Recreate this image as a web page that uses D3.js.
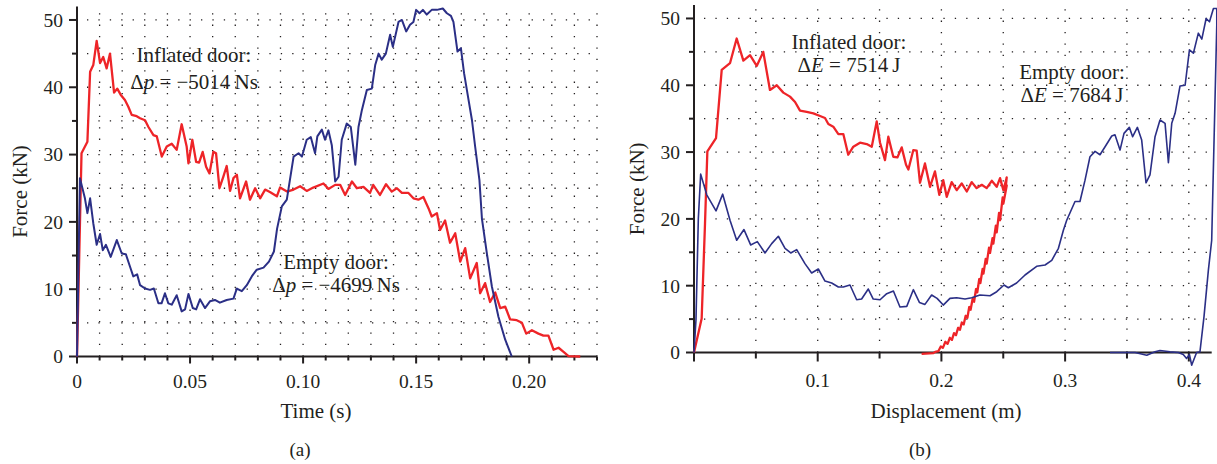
<!DOCTYPE html>
<html>
<head>
<meta charset="utf-8">
<script src="https://cdn.jsdelivr.net/npm/d3@7"></script>
<style>
  body { margin: 0; background: #fff; }
  svg text { font-family: "Liberation Serif", "DejaVu Serif", serif; fill: #231f20; }
</style>
</head>
<body>
<div id="chart"></div>
<script>
// force histories: [x, force kN]
const inflatedTime = [[0,0],[0.002,30.2],[0.0046,31.9],[0.0058,42.3],[0.0072,43.3],[0.0087,46.9],[0.0102,43.6],[0.0116,44.5],[0.0131,42.8],[0.0146,45],[0.0164,39.2],[0.0178,39.8],[0.0193,38.9],[0.0212,38.1],[0.0227,37.1],[0.0242,35.9],[0.0264,35.7],[0.0279,35.4],[0.0301,35.1],[0.0316,34.1],[0.0338,32.9],[0.0353,32.7],[0.0375,29.7],[0.0397,31.2],[0.0419,31.6],[0.0441,30.7],[0.0463,34.5],[0.0485,31.2],[0.0493,28.7],[0.051,32.2],[0.0527,28.9],[0.054,28.8],[0.0556,30.4],[0.0571,28.2],[0.0586,27.2],[0.0603,30.4],[0.0615,30.2],[0.063,25],[0.0647,26.7],[0.0662,28.3],[0.0677,24.6],[0.0692,26.5],[0.0707,27],[0.0721,23.5],[0.0748,26],[0.0765,23.3],[0.0788,25],[0.081,23.5],[0.0832,24.8],[0.0855,24.4],[0.0884,23.8],[0.0898,25.1],[0.0929,24.5],[0.0958,24.8],[0.0987,25.3],[0.1016,24.6],[0.1045,25.1],[0.109,25.7],[0.1112,24.9],[0.1142,25.5],[0.1164,25.5],[0.1186,24],[0.1216,26],[0.1238,25],[0.1267,25.2],[0.1296,24.3],[0.131,25.5],[0.134,24],[0.1367,25.6],[0.1392,24.5],[0.1415,25],[0.1437,24.3],[0.1466,24.3],[0.1488,23.5],[0.151,23.3],[0.1532,23.7],[0.1555,22],[0.1569,20.8],[0.1592,21.3],[0.1606,18.8],[0.1628,20.2],[0.165,16.9],[0.1673,18.3],[0.1695,14.1],[0.1717,16.1],[0.1739,11.6],[0.1768,13.9],[0.1783,9.4],[0.1805,10.9],[0.1827,8.1],[0.185,9.5],[0.1872,7.2],[0.1894,7.4],[0.1916,5.5],[0.1945,5.4],[0.1968,5.0],[0.1987,3.4],[0.2012,3.9],[0.2041,3.4],[0.2063,3.1],[0.2085,3.1],[0.2108,1.0],[0.213,1.3],[0.2152,0.7],[0.2174,0.05],[0.2226,0]];

const emptyTime = [[0,0],[0.0013,26.5],[0.0035,23.5],[0.0046,21.3],[0.0058,23.5],[0.0072,19.8],[0.0087,16.6],[0.0102,18.2],[0.0114,15.8],[0.0128,16.6],[0.0149,14.8],[0.0176,17.3],[0.0198,15.3],[0.0216,15.2],[0.0235,13.3],[0.0249,11.9],[0.0266,12.2],[0.0279,10.6],[0.0301,10.1],[0.0323,9.9],[0.034,10.1],[0.036,7.9],[0.0374,7.9],[0.0389,9.4],[0.0404,7.9],[0.0419,7.7],[0.0441,9.1],[0.0463,6.7],[0.0478,7.0],[0.0493,9.3],[0.0512,7.2],[0.0527,7.0],[0.0544,8.5],[0.0566,7.2],[0.0588,8.2],[0.061,8.4],[0.0632,8.0],[0.0662,8.4],[0.0692,8.6],[0.0707,10.1],[0.0729,9.7],[0.0751,10.6],[0.0773,11.9],[0.0795,12.9],[0.0825,13.2],[0.0849,14.1],[0.0871,15.6],[0.0885,19.0],[0.0906,22.3],[0.0928,23.3],[0.0958,29.7],[0.098,30.2],[0.0995,29.7],[0.1016,32.2],[0.1034,32.6],[0.1053,30.2],[0.1063,32.7],[0.1083,33.7],[0.1097,32.2],[0.1112,33.6],[0.1127,31.4],[0.1142,26],[0.1157,26.7],[0.1171,32.2],[0.1193,34.6],[0.1211,34.1],[0.1231,28.5],[0.1245,34.1],[0.126,36.6],[0.1282,39.6],[0.1304,39.8],[0.1319,43.3],[0.1334,45],[0.1348,44.1],[0.1366,45],[0.1385,47.8],[0.1397,46],[0.1422,49.7],[0.1437,50],[0.1456,48.3],[0.1473,49.3],[0.1488,49.7],[0.15,51.5],[0.1515,51],[0.153,51.5],[0.1547,50.8],[0.1569,51.5],[0.1592,51.5],[0.1618,51.7],[0.1636,51],[0.1654,50.6],[0.1665,49.7],[0.1683,45.3],[0.1698,45.8],[0.1712,42.1],[0.1732,38.1],[0.1747,35.1],[0.1761,31.2],[0.178,26.2],[0.1791,20.5],[0.1813,15.3],[0.1835,10.4],[0.1864,5.9],[0.1894,2.5],[0.1923,0]];

const inflatedDisp = [[0,0],[0.0062,5.1],[0.0089,19.3],[0.0108,30.1],[0.0178,32.1],[0.0224,42.3],[0.0291,43.3],[0.0345,47],[0.0399,43.7],[0.0453,44.5],[0.0507,42.9],[0.056,45],[0.0614,39.3],[0.0669,40],[0.0722,38.9],[0.0776,38.3],[0.0817,37.5],[0.0857,36.2],[0.0911,36],[0.0965,35.8],[0.1019,35.4],[0.1059,35.1],[0.1086,34.2],[0.1126,33.8],[0.1167,32.7],[0.1207,32.7],[0.1247,29.6],[0.1288,30.8],[0.1342,31.4],[0.1396,31.2],[0.1437,30.8],[0.1477,34.6],[0.1504,31.4],[0.1544,28.8],[0.1571,32.3],[0.1611,29.3],[0.1644,29.2],[0.1679,30.7],[0.1714,28.1],[0.1733,27.4],[0.1773,30.3],[0.18,30.2],[0.1827,25.4],[0.1867,28.3],[0.1908,24.8],[0.1948,27.1],[0.1983,23.6],[0.2015,25.8],[0.2043,23.3],[0.2083,25.5],[0.2124,24.3],[0.2164,25.3],[0.2205,24.1],[0.2245,25.5],[0.2285,24.6],[0.2326,25.1],[0.2366,24.6],[0.2407,25.7],[0.2447,24.8],[0.2474,26.1],[0.2501,24.3],[0.2528,26.2],[0.2515,23.8],[0.2528,25],[0.2501,22.3],[0.2495,23.2],[0.2474,19.8],[0.2466,20.9],[0.2447,18.0],[0.244,19.0],[0.242,16.3],[0.2413,17.1],[0.2393,14.9],[0.2385,15.7],[0.2366,13.3],[0.2358,14.0],[0.234,11.8],[0.2333,12.5],[0.2315,10.4],[0.2306,11.0],[0.229,9.0],[0.228,9.5],[0.2264,7.6],[0.2252,8.0],[0.2236,6.4],[0.2225,6.8],[0.221,5.2],[0.2196,5.5],[0.218,4.2],[0.2165,4.5],[0.215,3.4],[0.2135,3.7],[0.2118,2.6],[0.2102,2.9],[0.2085,1.9],[0.2068,2.2],[0.205,1.3],[0.2032,1.6],[0.2012,0.7],[0.1995,0.9],[0.1975,0.2],[0.195,0.1],[0.1935,-0.1],[0.184,-0.2]];

const emptyDisp = [[0,0],[0.0016,4.9],[0.0035,20],[0.0054,26.7],[0.0103,23.6],[0.0178,21.2],[0.0232,23.7],[0.0291,19.8],[0.0345,16.8],[0.0404,18.4],[0.0458,16.1],[0.0512,16.6],[0.0574,14.9],[0.0628,16.3],[0.0682,17.4],[0.0736,15.6],[0.0782,14.9],[0.083,15.4],[0.0897,13.3],[0.0951,11.9],[0.1005,12.5],[0.1059,10.7],[0.1113,10.4],[0.1167,9.8],[0.1207,9.8],[0.1261,10.1],[0.1315,7.9],[0.1355,8.0],[0.1409,9.5],[0.1449,8],[0.1504,7.9],[0.1558,8.8],[0.1612,9.2],[0.1665,6.8],[0.172,6.9],[0.1773,9.4],[0.1822,7.5],[0.1867,7.2],[0.1921,8.6],[0.1965,8.1],[0.2015,7.1],[0.2069,8.1],[0.2123,8.2],[0.2191,8.0],[0.2245,8.2],[0.2312,8.6],[0.2393,8.5],[0.2447,9.1],[0.2506,10.1],[0.2541,9.7],[0.2608,10.4],[0.2676,11.6],[0.277,12.9],[0.2838,13.1],[0.2892,13.8],[0.2946,15.6],[0.2986,18.3],[0.3013,19.8],[0.308,22.6],[0.312,22.6],[0.3161,25.8],[0.3201,29.3],[0.3242,30.1],[0.3282,29.6],[0.3323,30.8],[0.3377,32.4],[0.3403,32.6],[0.3444,30.3],[0.3476,32.8],[0.3519,33.7],[0.3546,32.3],[0.3584,33.7],[0.3619,31.8],[0.3654,25.4],[0.3686,26.6],[0.3727,32.3],[0.3767,34.8],[0.3808,34.3],[0.3835,28.4],[0.3862,34.3],[0.3889,35.8],[0.3929,39.9],[0.397,40],[0.4005,45.3],[0.4037,44.8],[0.4077,47.8],[0.4105,46.9],[0.414,50],[0.4167,49.5],[0.4199,51.5],[0.4226,51.5],[0.4226,49],[0.4185,16.8],[0.4158,12.3],[0.4123,5.4],[0.409,0.1],[0.4063,0],[0.4023,-1.9],[0.4005,-0.3],[0.3982,-0.9],[0.3955,-0.3],[0.3915,0],[0.3848,0.1],[0.3767,0.3],[0.3727,0.1],[0.366,-0.4],[0.3565,0],[0.3363,0]];

const forceTicks = [0, 10, 20, 30, 40, 50];
const timeTicks = [0, 0.05, 0.10, 0.15, 0.20];
const dispTicks = [0.1, 0.2, 0.3, 0.4];

const RED = "#ee2428";
const BLUE = "#2b2f86";
const INK = "#231f20";

const W = 1217, H = 464;
const svg = d3.select("#chart").append("svg")
  .attr("width", W).attr("height", H)
  .attr("viewBox", `0 0 ${W} ${H}`);

function drawPanel(cfg) {
  const x = d3.scaleLinear().domain(cfg.xDomain).range(cfg.xRange);
  const y = d3.scaleLinear().domain([0, 52]).range(cfg.yRange);
  const g = svg.append("g");

  // dotted grid
  const vLines = d3.range(cfg.gridStep, cfg.xDomain[1] + 1e-9, cfg.gridStep);
  g.append("g").selectAll("line").data(vLines).enter().append("line")
    .attr("x1", d => x(d)).attr("x2", d => x(d))
    .attr("y1", y(0)).attr("y2", y(52))
    .attr("stroke", INK).attr("stroke-width", 1.3)
    .attr("stroke-dasharray", "1.3,10.1");
  g.append("g").selectAll("line").data(d3.range(5, 51, 5)).enter().append("line")
    .attr("x1", x(0)).attr("x2", x(cfg.xDomain[1]))
    .attr("y1", d => y(d)).attr("y2", d => y(d))
    .attr("stroke", INK).attr("stroke-width", 1.3)
    .attr("stroke-dasharray", "1.3,10.1")
    .attr("stroke-dashoffset", -10);

  // axes
  const yAxis = g.append("g").attr("transform", `translate(${x(0)},0)`);
  yAxis.append("line").attr("y1", y(0) + 1).attr("y2", y(52))
    .attr("stroke", INK).attr("stroke-width", 2);
  yAxis.selectAll(".tk").data(d3.range(0, 51, 5)).enter().append("line")
    .attr("x1", d => d % 10 === 0 ? -8 : -5).attr("x2", 0)
    .attr("y1", d => y(d)).attr("y2", d => y(d))
    .attr("stroke", INK).attr("stroke-width", 2);
  yAxis.selectAll("text").data(forceTicks).enter().append("text")
    .attr("x", -14).attr("y", d => y(d)).attr("dy", "0.35em")
    .attr("text-anchor", "end").style("font-size", "19.5px")
    .text(d => d);

  const xAxis = g.append("g").attr("transform", `translate(0,${y(0)})`);
  xAxis.append("line").attr("x1", x(0) - 1).attr("x2", x(cfg.xDomain[1]))
    .attr("stroke", INK).attr("stroke-width", 2);
  xAxis.selectAll(".tk").data(d3.range(0, cfg.xDomain[1] + 1e-9, cfg.gridStep)).enter().append("line")
    .attr("x1", d => x(d)).attr("x2", d => x(d))
    .attr("y1", 0).attr("y2", (d, i) => i % cfg.majorEvery === 0 ? cfg.majorLen : cfg.minorLen)
    .attr("stroke", INK).attr("stroke-width", 2);
  xAxis.selectAll("text").data(cfg.xTicks).enter().append("text")
    .attr("x", d => x(d)).attr("y", cfg.labelOffset)
    .attr("text-anchor", "middle").style("font-size", "19.5px")
    .text(cfg.fmt);

  // titles
  g.append("text").attr("x", cfg.xTitle[0]).attr("y", cfg.xTitle[1])
    .attr("text-anchor", "middle").style("font-size", "21px").text(cfg.xLabel);
  g.append("text")
    .attr("transform", `translate(${cfg.yTitleX},${(y(0) + y(52)) / 2 + 10}) rotate(-90)`)
    .attr("text-anchor", "middle").style("font-size", "21px").text("Force (kN)");
  g.append("text").attr("x", cfg.panelLabel[0]).attr("y", 456)
    .attr("text-anchor", "middle").style("font-size", "19px").text(cfg.panelLabel[1]);

  // curves
  const line = d3.line().x(d => x(d[0])).y(d => y(d[1]));
  g.append("path").datum(cfg.red).attr("d", line)
    .attr("fill", "none").attr("stroke", RED).attr("stroke-width", 2.3)
    .attr("stroke-linejoin", "round");
  g.append("path").datum(cfg.blue).attr("d", line)
    .attr("fill", "none").attr("stroke", BLUE).attr("stroke-width", cfg.blueWidth)
    .attr("stroke-linejoin", "round");

  // annotations
  cfg.notes.forEach(n => {
    g.append("text").attr("x", n.x).attr("y", n.y)
      .attr("text-anchor", "middle").style("font-size", "21px").text(n.title);
    const t = g.append("text").attr("x", n.x).attr("y", n.y + n.gap)
      .attr("text-anchor", "middle").style("font-size", "21px");
    t.append("tspan").text("\u0394");
    t.append("tspan").style("font-style", "italic").text(n.sym);
    t.append("tspan").text(" = " + n.value);
  });
}

drawPanel({
  xDomain: [0, 0.23], xRange: [77, 597], yRange: [356.5, 6.5],
  gridStep: 0.01, majorEvery: 5, majorLen: 7, minorLen: 4,
  xTicks: timeTicks, fmt: d => d === 0 ? "0" : d.toFixed(2), labelOffset: 31,
  xLabel: "Time (s)", xTitle: [316, 418], yTitleX: 27, panelLabel: [300, "(a)"],
  red: inflatedTime, blue: emptyTime, blueWidth: 2,
  notes: [
    { x: 194, y: 62, gap: 27, title: "Inflated door:", sym: "p", value: "\u22125014\u2009Ns" },
    { x: 336, y: 269, gap: 23, title: "Empty door:", sym: "p", value: "\u22124699\u2009Ns" }
  ]
});

drawPanel({
  xDomain: [0, 0.4185], xRange: [694, 1211.7], yRange: [352.5, 5.1],
  gridStep: 0.05, majorEvery: 2, majorLen: 9, minorLen: 6,
  xTicks: dispTicks, fmt: d => d.toFixed(1), labelOffset: 34,
  xLabel: "Displacement (m)", xTitle: [946, 418], yTitleX: 644, panelLabel: [920, "(b)"],
  red: inflatedDisp, blue: emptyDisp, blueWidth: 1.6,
  notes: [
    { x: 849, y: 49, gap: 23, title: "Inflated door:", sym: "E", value: "7514\u2009J" },
    { x: 1072, y: 79, gap: 23, title: "Empty door:", sym: "E", value: "7684\u2009J" }
  ]
});
</script>
</body>
</html>
